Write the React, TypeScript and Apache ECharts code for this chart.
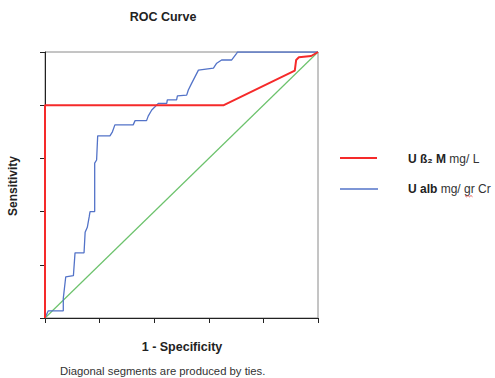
import React, { useEffect, useRef } from "react";
import * as echarts from "echarts";

const xTicks = [0, 0.2, 0.4, 0.6, 0.8, 1.0];
const redSeriesName = "U ß₂ M mg/ L";
const blueSeriesName = "U alb mg/ gr Cr";

const redX = [0, 0, 0.655, 0.915, 0.92, 0.93, 0.975, 1];
const redY = [0, 0.8, 0.8, 0.93, 0.97, 0.98, 0.985, 1];

const blueX = [0, 0.012, 0.067, 0.067, 0.076, 0.104, 0.11, 0.143, 0.147, 0.155, 0.162, 0.165, 0.182, 0.182, 0.189, 0.193, 0.238, 0.247, 0.256, 0.323, 0.33, 0.372, 0.378, 0.391, 0.403, 0.415, 0.446, 0.448, 0.482, 0.485, 0.519, 0.525, 0.537, 0.562, 0.617, 0.629, 0.647, 0.684, 0.702, 0.705, 1];
const blueY = [0, 0.027, 0.027, 0.074, 0.155, 0.159, 0.245, 0.245, 0.322, 0.341, 0.381, 0.4, 0.4, 0.582, 0.594, 0.685, 0.685, 0.7, 0.726, 0.726, 0.742, 0.742, 0.759, 0.782, 0.794, 0.807, 0.807, 0.82, 0.82, 0.835, 0.838, 0.857, 0.882, 0.932, 0.939, 0.958, 0.97, 0.97, 0.995, 1, 1];

const refX = [0, 1];
const refY = [0, 1];

const zip = (a: number[], b: number[]) => a.map((v, i) => [v, b[i]]);

export default function App() {
  const ref = useRef<HTMLDivElement>(null);
  useEffect(() => {
    if (!ref.current) return;
    const chart = echarts.init(ref.current, null, { renderer: "svg" });
    const font = "'Liberation Sans', Arial, sans-serif";
    chart.setOption({
      animation: false,
      backgroundColor: "#fff",
      grid: {
        left: 45, right: 177, top: 52, bottom: 60,
        show: true, borderColor: "#8a8a8a", borderWidth: 1,
      },
      xAxis: {
        type: "value", min: xTicks[0], max: xTicks[xTicks.length - 1], interval: 0.2,
        axisLine: { show: true, lineStyle: { color: "#222", width: 1 } },
        axisTick: { show: true, length: 5, lineStyle: { color: "#222" } },
        axisLabel: { show: false },
        splitLine: { show: false },
      },
      yAxis: {
        type: "value", min: 0, max: 1, interval: 0.2,
        axisLine: { show: true, lineStyle: { color: "#222", width: 1 } },
        axisTick: { show: true, length: 5, lineStyle: { color: "#222" } },
        axisLabel: { show: false },
        splitLine: { show: false },
      },
      series: [
        {
          name: "ref", type: "line", data: zip(refX, refY), symbol: "none",
          lineStyle: { color: "#6cc26c", width: 1.2 }, silent: true, z: 2,
        },
        {
          name: blueSeriesName, type: "line", data: zip(blueX, blueY), symbol: "none",
          lineStyle: { color: "#5373c8", width: 1.3 }, z: 3,
        },
        {
          name: redSeriesName, type: "line", data: zip(redX, redY), symbol: "none",
          lineStyle: { color: "#f52a2a", width: 2 }, z: 4,
        },
      ],
      graphic: [
        { type: "text", x: 163, y: 16.5, style: { text: "ROC Curve", font: `bold 12.5px ${font}`, fill: "#222", align: "center", verticalAlign: "middle" } },
        { type: "text", x: 13, y: 186, rotation: Math.PI / 2, style: { text: "Sensitivity", font: `bold 12px ${font}`, fill: "#222", align: "center", verticalAlign: "middle" } },
        { type: "text", x: 182, y: 347, style: { text: "1 - Specificity", font: `bold 12.5px ${font}`, fill: "#222", align: "center", verticalAlign: "middle" } },
        { type: "text", x: 60, y: 371, style: { text: "Diagonal segments are produced by ties.", font: `11.3px ${font}`, fill: "#333", align: "left", verticalAlign: "middle" } },
        { type: "line", shape: { x1: 340, y1: 158, x2: 377, y2: 158 }, style: { stroke: "#f52a2a", lineWidth: 2 } },
        { type: "line", shape: { x1: 340, y1: 189, x2: 378, y2: 189 }, style: { stroke: "#5373c8", lineWidth: 1.5 } },
        {
          type: "text", x: 408, y: 158.5,
          style: {
            text: "{b|U ß₂ M} {n|mg/ L}", verticalAlign: "middle",
            rich: {
              b: { font: `bold 12px ${font}`, fill: "#222" },
              n: { font: `12px ${font}`, fill: "#333" },
            },
          },
        },
        {
          type: "text", x: 408, y: 188.5,
          style: {
            text: "{b|U alb} {n|mg/ gr Cr}", verticalAlign: "middle",
            rich: {
              b: { font: `bold 12px ${font}`, fill: "#222" },
              n: { font: `12px ${font}`, fill: "#333" },
            },
          },
        },
        {
          type: "polyline",
          shape: { points: [[465, 195.5], [466.5, 196.8], [468, 195.5], [469.5, 196.8], [471, 195.5], [472.5, 196.8]] },
          style: { stroke: "#e23b3b", lineWidth: 0.8, fill: "none" },
        },
      ],
    });
    return () => chart.dispose();
  }, []);
  return <div ref={ref} style={{ width: 495, height: 378, position: "absolute", left: 0, top: 0 }} />;
}
